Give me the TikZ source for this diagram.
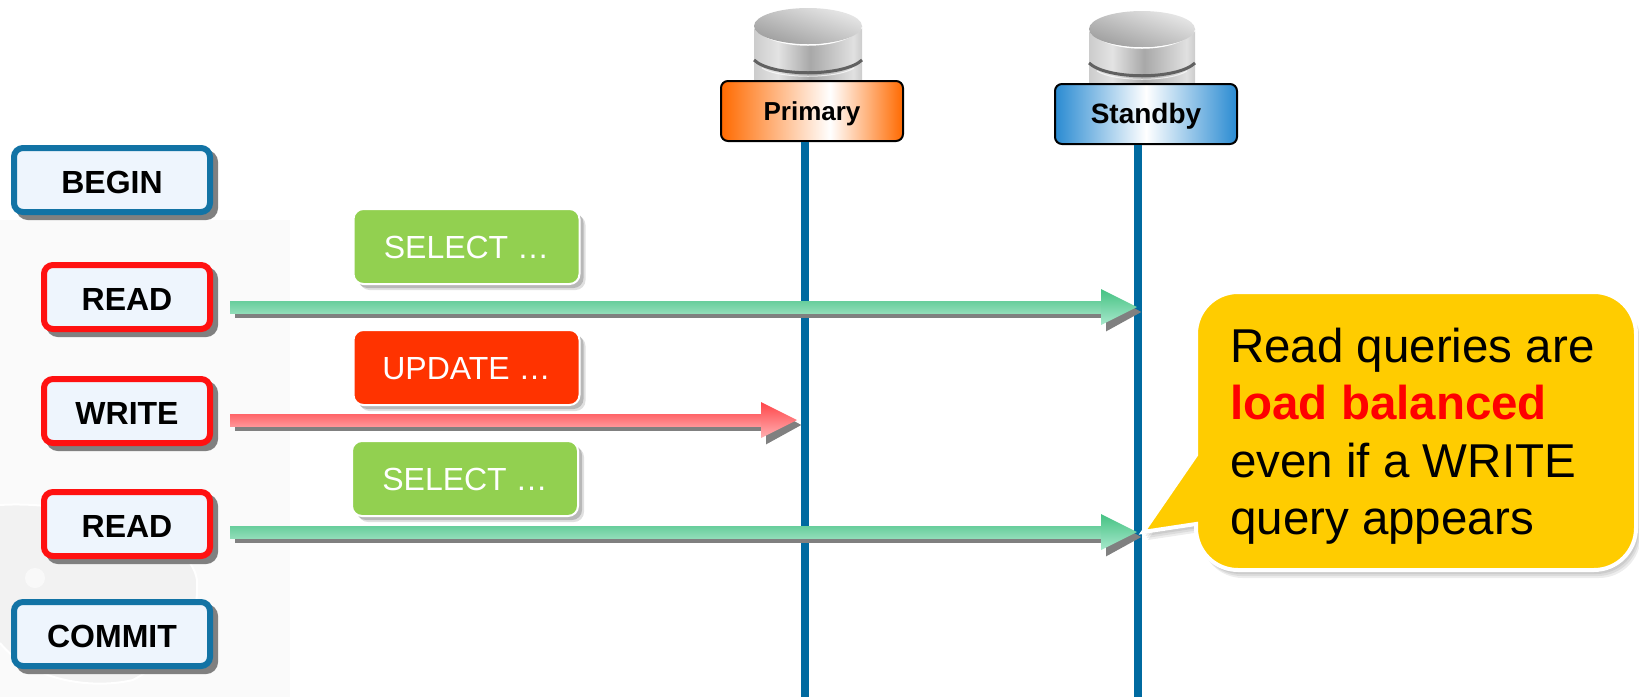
\documentclass[tikz,border=0pt]{standalone}
\usepackage{fontspec}
\setmainfont{Liberation Sans}
\usetikzlibrary{arrows.meta, calc, shadows}

\definecolor{lifeblue}{HTML}{006AA0}
\definecolor{txnblue}{HTML}{1273A5}
\definecolor{opred}{HTML}{FF1111}
\definecolor{boxfill}{HTML}{EEF5FD}
\definecolor{shadowgrey}{HTML}{808080}
\definecolor{primaryorange}{HTML}{FF6A00}
\definecolor{standbyblue}{HTML}{2A8BD2}
\definecolor{selectgreen}{HTML}{92D050}
\definecolor{updatered}{HTML}{FF3300}
\definecolor{notegold}{HTML}{FFCC00}
\definecolor{readtop}{HTML}{68CE9C}
\definecolor{readbottom}{HTML}{90DDB8}
\definecolor{readheadtop}{HTML}{45C283}
\definecolor{readheadbottom}{HTML}{A8E8CC}
\definecolor{writetop}{HTML}{FF6468}
\definecolor{writebottom}{HTML}{FF9497}
\definecolor{writeheadtop}{HTML}{FF4549}
\definecolor{writeheadbottom}{HTML}{FFB0B2}

\pgfdeclarehorizontalshading{primaryfill}{100bp}{color(0bp)=(primaryorange); color(25bp)=(primaryorange); color(55bp)=(white); color(75bp)=(primaryorange); color(100bp)=(primaryorange)}
\pgfdeclarehorizontalshading{standbyfill}{100bp}{color(0bp)=(standbyblue); color(25bp)=(standbyblue); color(50bp)=(white); color(75bp)=(standbyblue); color(100bp)=(standbyblue)}
\pgfdeclarehorizontalshading{diskfill}{100bp}{gray(0bp)=(0.80); gray(25bp)=(0.80); gray(36bp)=(0.89); gray(51bp)=(0.66); gray(71bp)=(0.88); gray(75bp)=(0.80); gray(100bp)=(0.80)}

% one arrow: grey shadow, then the shaded shaft and head
\newcommand{\queryarrow}[6]{
    \draw[arrowshadow] (#1) -- (#2);
    \shade[top color=#3, bottom color=#4] ($(#1)+(0,-6)$) -- ($(#2)+(-36,-6)$) -- ($(#2)+(-36,6)$) -- ($(#1)+(0,6)$) -- cycle;
    \shade[top color=#5, bottom color=#6] ($(#2)+(-36,-18)$) -- (#2) -- ($(#2)+(-36,18)$) -- cycle;
}
\newcommand{\notepath}{(1143,532) -- (1196,455) [rounded corners=42pt] -- (1196,292) -- (1636,292) -- (1636,570) -- (1196,570) [sharp corners] -- (1196,524) -- cycle}

\begin{document}
\begin{tikzpicture}[x=1pt, y=-1pt,
    txn/.style={draw=txnblue, line width=6pt, rounded corners=9pt, fill=boxfill, minimum height=64pt, text height=26pt, text depth=0pt, inner sep=0pt,
        font=\fontsize{32}{38}\selectfont\bfseries, drop shadow={shadow xshift=5pt, shadow yshift=-5pt, fill=shadowgrey, draw=shadowgrey, opacity=1}},
    txnop/.style={txn, draw=opred},
    query/.style={draw=white, line width=2pt, rounded corners=10pt, text=white, minimum width=226pt, minimum height=75pt, text height=23pt, text depth=0pt, inner sep=0pt,
        font=\fontsize{32}{38}\selectfont,
        drop shadow={shadow xshift=6pt, shadow yshift=-6pt, fill=black, opacity=.12},
        drop shadow={shadow xshift=4pt, shadow yshift=-4pt, fill=black, opacity=.18}},
    server/.style={draw=black, line width=2pt, rounded corners=7pt, minimum width=182pt, minimum height=60pt, text height=19pt, text depth=0pt, inner sep=0pt,
        font=\bfseries},
    lifeline/.style={draw=lifeblue, line width=8pt},
    arrowshadow/.style={draw=shadowgrey, line width=12pt, -{Triangle[length=36pt, width=36pt]}, transform canvas={xshift=5pt, yshift=-5pt}}]
    \useasboundingbox (0,0) rectangle (1639,697);

    % faint slide background
    \fill[black!2] (0,220) rectangle (290,697);
    \draw[white, line width=2pt, fill=black!5] (0,505) .. controls (70,500) and (190,530) .. (197,580) .. controls (200,630) and (170,660) .. (133,680) .. controls (90,690) and (30,680) .. (0,643);
    \fill[white, opacity=.6] (35,578) circle (10);

    % disks
    \foreach \cx/\cy/\rx in {808/26/54, 1142/29/53} {
        \shade[shading=diskfill] (\cx-\rx,\cy) rectangle (\cx+\rx,\cy+58);
        \draw[black!62, line width=3pt] (\cx-\rx,\cy+34) .. controls (\cx-\rx+18,\cy+51) and (\cx+\rx-18,\cy+51) .. (\cx+\rx,\cy+34);
        \draw[white, opacity=.7, line width=1pt] (\cx-\rx+8,\cy+42) .. controls (\cx-\rx+25,\cy+53) and (\cx+\rx-25,\cy+53) .. (\cx+\rx-8,\cy+42);
        \draw[white, line width=1.5pt] (\cx-\rx,\cy+1) .. controls (\cx-\rx+18,\cy+25) and (\cx+\rx-18,\cy+25) .. (\cx+\rx,\cy+1);
        \shade[left color=black!9, right color=black!38, shading angle=-20] (\cx,\cy) ellipse [x radius=\rx, y radius=18];
    }

    \draw (812,111) node[server, shade, shading=primaryfill, font=\fontsize{26}{31}\selectfont\bfseries] (primary) {Primary};
    \draw (1146,114) node[server, shade, shading=standbyfill, font=\fontsize{28}{33}\selectfont\bfseries] (standby) {Standby};

    \coordinate (primaryend) at (805,697);
    \coordinate (standbyend) at (1138,697);
    \draw[lifeline] (primary.south -| primaryend) -- (primaryend);
    \draw[lifeline] (standby.south -| standbyend) -- (standbyend);

    \draw (112,180) node[txn, minimum width=196pt] (begin) {BEGIN};
    \draw (127,297) node[txnop, minimum width=166pt] (readone) {READ};
    \draw (127,411) node[txnop, minimum width=166pt] (write) {WRITE};
    \draw (127,524) node[txnop, minimum width=166pt] (readtwo) {READ};
    \draw (112,634) node[txn, minimum width=196pt] (commit) {COMMIT};

    \draw (466.5,246.5) node[query, fill=selectgreen] (selectone) {SELECT …};
    \draw (466.5,367.5) node[query, fill=updatered] (update) {UPDATE …};
    \draw (465,478.5) node[query, fill=selectgreen] (selecttwo) {SELECT …};

    \coordinate (readonestart) at (230,307);
    \coordinate (readoneend) at (1137,307);
    \coordinate (writestart) at (230,420);
    \coordinate (writeend) at (797,420);
    \coordinate (readtwostart) at (230,532);
    \coordinate (readtwoend) at (1137,532);
    \queryarrow{readonestart}{readoneend}{readtop}{readbottom}{readheadtop}{readheadbottom}
    \queryarrow{writestart}{writeend}{writetop}{writebottom}{writeheadtop}{writeheadbottom}
    \queryarrow{readtwostart}{readtwoend}{readtop}{readbottom}{readheadtop}{readheadbottom}

    % callout with its soft shadow
    \foreach \s in {2,4,6,8} {
        \fill[black, opacity=.07, xshift=0.6*\s pt, yshift=-\s pt] \notepath;
    }
    \draw[white, line width=4pt, fill=notegold] \notepath;
    \draw (1230,436) node[anchor=west, align=left, inner sep=0pt, font=\fontsize{47.5}{57.5}\selectfont] (note) {Read queries are\\{\color{red}\bfseries load balanced}\\even if a WRITE\\query appears};
\end{tikzpicture}
\end{document}
